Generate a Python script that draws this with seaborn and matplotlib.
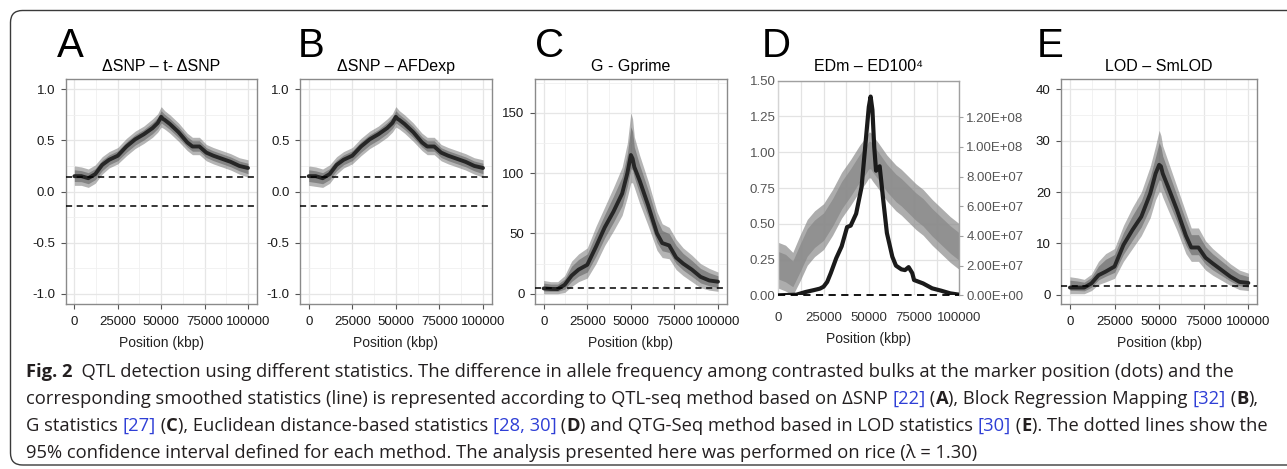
import numpy as np
import pandas as pd
import matplotlib
matplotlib.use("Agg")
import matplotlib.pyplot as plt
import seaborn as sns
from matplotlib.patches import FancyBboxPatch
from matplotlib.transforms import IdentityTransform

W, H, DPI = 1287, 469, 100

# ---------------- data ----------------
position_k = [0, 4, 8, 12, 16, 20, 25, 30, 35, 40, 45, 48, 50, 51, 52, 55, 60, 65, 68, 72, 76, 80, 85, 90, 95, 100]

a_line = [0.15, 0.15, 0.13, 0.17, 0.26, 0.31, 0.35, 0.44, 0.51, 0.56, 0.62, 0.67, 0.73, 0.71, 0.70, 0.66, 0.58, 0.48, 0.44, 0.44, 0.38, 0.35, 0.32, 0.29, 0.25, 0.23]
a_lo = [0.06, 0.06, 0.04, 0.08, 0.17, 0.23, 0.27, 0.35, 0.42, 0.47, 0.53, 0.58, 0.63, 0.62, 0.61, 0.57, 0.49, 0.40, 0.36, 0.36, 0.30, 0.27, 0.24, 0.21, 0.17, 0.14]
a_hi = [0.25, 0.24, 0.22, 0.26, 0.34, 0.39, 0.43, 0.52, 0.59, 0.64, 0.71, 0.76, 0.83, 0.81, 0.79, 0.75, 0.67, 0.57, 0.53, 0.53, 0.46, 0.43, 0.40, 0.37, 0.33, 0.31]
a_ci = [0.145, -0.14]

b_line = [0.15, 0.15, 0.13, 0.17, 0.26, 0.31, 0.35, 0.44, 0.51, 0.56, 0.62, 0.67, 0.73, 0.71, 0.70, 0.66, 0.58, 0.48, 0.44, 0.44, 0.38, 0.35, 0.32, 0.29, 0.25, 0.23]
b_lo = [0.06, 0.05, 0.04, 0.08, 0.17, 0.23, 0.27, 0.35, 0.42, 0.47, 0.53, 0.58, 0.63, 0.62, 0.61, 0.57, 0.49, 0.40, 0.36, 0.36, 0.30, 0.27, 0.24, 0.21, 0.17, 0.14]
b_hi = [0.25, 0.24, 0.22, 0.26, 0.34, 0.39, 0.43, 0.52, 0.59, 0.64, 0.71, 0.76, 0.83, 0.81, 0.79, 0.75, 0.67, 0.57, 0.53, 0.53, 0.46, 0.43, 0.40, 0.37, 0.33, 0.31]
b_ci = [0.145, -0.14]

c_line = [4.4, 4.0, 3.9, 7.4, 15, 20, 24, 39, 55, 68, 83, 100, 115, 112, 105, 94, 73, 50, 42, 40, 30, 25, 20, 14, 11, 10]
c_lo = [0, 0, 0, 1, 6, 10, 13, 25, 40, 52, 65, 80, 92, 92, 88, 75, 56, 36, 30, 29, 20, 15, 10, 5, 3, 2]
c_hi = [11, 10, 10, 15, 27, 33, 38, 56, 72, 88, 105, 125, 150, 145, 130, 115, 93, 68, 58, 55, 45, 38, 32, 25, 21, 18]
c_ci = [4.5]

d_dots_lo = [0.05, 0.03, 0.0, 0.10, 0.21, 0.27, 0.32, 0.42, 0.54, 0.63, 0.73, 0.78, 0.82, 0.82, 0.80, 0.75, 0.66, 0.59, 0.56, 0.51, 0.46, 0.42, 0.35, 0.29, 0.23, 0.18]
d_dots_hi = [0.37, 0.35, 0.30, 0.42, 0.53, 0.59, 0.64, 0.74, 0.86, 0.95, 1.05, 1.10, 1.14, 1.14, 1.12, 1.07, 0.98, 0.91, 0.88, 0.83, 0.78, 0.74, 0.67, 0.61, 0.55, 0.50]
d_line_pos_k = [0, 10, 15, 20, 23, 25, 27, 29, 32, 35, 38, 40, 43, 46, 48, 50, 51, 52, 53, 54, 56, 58, 60, 63, 65, 68, 70, 72, 74, 75, 80, 85, 90, 95, 100]
d_line = [0, 0.04e7, 0.22e7, 0.36e7, 0.45e7, 0.58e7, 0.9e7, 1.5e7, 2.5e7, 3.3e7, 4.6e7, 4.7e7, 5.5e7, 7.3e7, 10.0e7, 12.7e7, 13.4e7, 12.5e7, 10.0e7, 8.4e7,
          8.7e7, 6.4e7, 4.2e7, 2.6e7, 2.0e7, 1.75e7, 1.7e7, 1.9e7, 1.5e7, 1.03e7, 0.8e7, 0.47e7, 0.31e7, 0.13e7, 0.04e7]
d_ci = [0.0]

e_line = [1.4, 1.4, 1.4, 2.2, 3.8, 4.5, 5.5, 9.7, 12.6, 15.2, 19.7, 23.6, 25.3, 25.0, 23.6, 21, 16.5, 11.5, 9.2, 9.2, 7.2, 6.1, 4.8, 3.5, 2.5, 2.3]
e_lo = [0.2, 0.2, 0.2, 0.8, 2.0, 2.5, 3.2, 6.5, 9, 11.5, 15, 18.5, 20, 20, 19, 16.5, 12.5, 8, 6.5, 6.5, 4.8, 3.8, 2.8, 1.8, 1.0, 0.8]
e_hi = [3.5, 3.3, 3.0, 4, 6.5, 8, 9, 13.5, 17, 20, 25, 29, 32, 31, 29, 26, 21, 16, 13, 13, 10.5, 9, 7.5, 6, 4.8, 4.2]
e_ci = [1.7]

letters = ["A", "B", "C", "D", "E"]
titles = ["ΔSNP – t- ΔSNP", "ΔSNP – AFDexp", "G - Gprime", "EDm – ED100⁴", "LOD – SmLOD"]
x_ticks = [0, 25000, 50000, 75000, 100000]
x_ticklabels = ["0", "25000", "50000", "75000", "100000"]
ab_yticks = [-1.0, -0.5, 0.0, 0.5, 1.0]
ab_yticklabels = ["-1.0", "-0.5", "0.0", "0.5", "1.0"]
c_yticks = [0, 50, 100, 150]
e_yticks = [0, 10, 20, 30, 40]
d_left_ticks = [0, 0.25, 0.5, 0.75, 1.0, 1.25, 1.5]
d_left_labels = ["0.00", "0.25", "0.50", "0.75", "1.00", "1.25", "1.50"]
d_right_ticks = [0, 2e7, 4e7, 6e7, 8e7, 1e8, 1.2e8]
d_right_labels = ["0.00E+00", "2.00E+07", "4.00E+07", "6.00E+07", "8.00E+07", "1.00E+08", "1.20E+08"]
x_label = "Position (kbp)"

caption_lines = [
    [("Fig. 2", "b"), ("  QTL detection using different statistics. The difference in allele frequency among contrasted bulks at the marker position (dots) and the", "r")],
    [("corresponding smoothed statistics (line) is represented according to QTL-seq method based on ΔSNP ", "r"), ("[22]", "l"), (" (", "r"), ("A", "b"),
     ("), Block Regression Mapping ", "r"), ("[32]", "l"), (" (", "r"), ("B", "b"), ("),", "r")],
    [("G statistics ", "r"), ("[27]", "l"), (" (", "r"), ("C", "b"), ("), Euclidean distance-based statistics ", "r"), ("[28, 30]", "l"), (" (", "r"), ("D", "b"),
     (") and QTG-Seq method based in LOD statistics ", "r"), ("[30]", "l"), (" (", "r"), ("E", "b"), ("). The dotted lines show the", "r")],
    [("95% confidence interval defined for each method. The analysis presented here was performed on rice (λ = 1.30)", "r")],
]

# ---------------- styling ----------------
sns.set_theme(style="white")
plt.rcParams['font.family'] = ['Liberation Sans', 'DejaVu Sans']

fig = plt.figure(figsize=(W / DPI, H / DPI), dpi=DPI)
fig.patch.set_facecolor("white")


def add_ax(x0, y0, x1, y1):
    return fig.add_axes([x0 / W, 1 - y1 / H, (x1 - x0) / W, (y1 - y0) / H])


def ftext(x, y, s, **kw):
    return fig.text(x / W, 1 - y / H, s, **kw)


pos = np.array(position_k) * 1000.0


def draw_cloud(ax, lo, hi, color, a_out, a_in):
    lo = np.asarray(lo, float)
    hi = np.asarray(hi, float)
    ax.fill_between(pos, lo, hi, color=color, alpha=a_out, lw=0, zorder=2)
    mid = (lo + hi) / 2
    half = (hi - lo) / 2 * 0.6
    ax.fill_between(pos, mid - half, mid + half, color=color, alpha=a_in, lw=0, zorder=2)


def gg_panel(ax, line, lo, hi, ci, ylim, yticks, ylabels, yminor):
    df = pd.DataFrame({"pos": pos, "val": line})
    draw_cloud(ax, lo, hi, "#5c5c5c", 0.45, 0.55)
    sns.lineplot(data=df, x="pos", y="val", ax=ax, color="#262626", linewidth=2.8,
                 estimator=None, sort=False, zorder=3)
    for c in ci:
        ax.axhline(c, color="black", lw=1.1, ls=(0, (4, 3)), zorder=4)
    ax.set_xlim(-5000, 105000)
    ax.set_ylim(*ylim)
    ax.set_xticks(x_ticks)
    ax.set_xticklabels(x_ticklabels)
    ax.set_yticks(yticks)
    ax.set_yticklabels(ylabels)
    ax.set_xticks([12500, 37500, 62500, 87500], minor=True)
    ax.set_yticks(yminor, minor=True)
    ax.grid(which="major", color="#e6e6e6", lw=0.9)
    ax.grid(which="minor", color="#f0f0f0", lw=0.6)
    ax.set_axisbelow(True)
    for s in ax.spines.values():
        s.set_visible(True)
        s.set_color("#8a8a8a")
        s.set_linewidth(1.0)
    ax.tick_params(which="major", length=3.5, width=0.8, color="#555555",
                   labelsize=9.5, labelcolor="#1a1a1a", bottom=True, left=True)
    ax.tick_params(axis="x", pad=5)
    ax.tick_params(axis="y", pad=4)
    ax.tick_params(which="minor", length=0)
    ax.set_xlabel("")
    ax.set_ylabel("")


axA = add_ax(65.7, 79, 256.7, 304)
gg_panel(axA, a_line, a_lo, a_hi, a_ci, (-1.1, 1.1), ab_yticks, ab_yticklabels, [-0.75, -0.25, 0.25, 0.75])
axB = add_ax(300, 79, 491.7, 304)
gg_panel(axB, b_line, b_lo, b_hi, b_ci, (-1.1, 1.1), ab_yticks, ab_yticklabels, [-0.75, -0.25, 0.25, 0.75])
axC = add_ax(535, 79, 726.7, 304)
gg_panel(axC, c_line, c_lo, c_hi, c_ci, (-8.5, 178), c_yticks, [str(v) for v in c_yticks], [25, 75, 125, 175])
axE = add_ax(1061, 79, 1257.3, 304)
gg_panel(axE, e_line, e_lo, e_hi, e_ci, (-1.8, 42), e_yticks, [str(v) for v in e_yticks], [5, 15, 25, 35])

# ---- panel D (Excel-like, twin axes) ----
axD = add_ax(778.3, 80.7, 959.3, 295.3)
draw_cloud(axD, d_dots_lo, d_dots_hi, "#8a8a8a", 0.7, 0.8)
axD.set_xlim(0, 100000)
axD.set_ylim(0, 1.5)
axD.set_xticks(x_ticks)
axD.set_xticklabels(x_ticklabels)
axD.set_xticks([12500, 37500, 62500, 87500], minor=True)
axD.set_yticks(d_left_ticks)
axD.set_yticklabels(d_left_labels)
axD.grid(which="both", axis="x", color="#e3e3e3", lw=0.9)
axD.grid(which="major", axis="y", color="#e3e3e3", lw=0.9)
axD.set_axisbelow(True)
axD.spines["top"].set_color("#a0a0a0")
axD.spines["left"].set_color("#d4d4d4")
axD.spines["right"].set_visible(False)
axD.spines["bottom"].set_visible(False)
for s in ["top", "left"]:
    axD.spines[s].set_linewidth(1.0)
axD.tick_params(which="both", length=0, labelsize=9.5, labelcolor="#555555")
axD.tick_params(axis="x", pad=12, labelcolor="#333333")
axD.tick_params(axis="y", pad=2)

axD2 = axD.twinx()
dfD = pd.DataFrame({"pos": np.array(d_line_pos_k) * 1000.0, "val": d_line})
sns.lineplot(data=dfD, x="pos", y="val", ax=axD2, color="#1a1a1a", linewidth=3.0,
             estimator=None, sort=False, zorder=3)
for c in d_ci:
    axD2.axhline(c, color="black", lw=1.3, ls=(0, (4, 3)), zorder=4, clip_on=False)
axD2.set_ylim(0, 1.447e8)
axD2.set_xlim(0, 100000)
axD2.set_yticks(d_right_ticks)
axD2.set_yticklabels(d_right_labels)
axD2.grid(False)
for s in ["top", "left", "bottom"]:
    axD2.spines[s].set_visible(False)
axD2.spines["right"].set_visible(True)
axD2.spines["right"].set_color("#a0a0a0")
axD2.spines["right"].set_linewidth(1.0)
axD2.tick_params(axis="y", right=True, length=3, width=0.8, color="#a0a0a0", pad=2,
                 labelsize=9.5, labelcolor="#555555")
axD2.set_xlabel("")
axD2.set_ylabel("")
axD.set_xlabel("")
axD.set_ylabel("")

# ---- letters, titles, x labels ----
letter_x = [57, 298, 535, 762, 1037]
axes_list = [axA, axB, axC, axD, axE]
for ax, L, lx, t in zip(axes_list, letters, letter_x, titles):
    ftext(lx, 57, L, fontsize=29, ha="left", va="baseline", color="black")
    bb = ax.get_position()
    cx = (bb.x0 + bb.x1) / 2 * W
    ftext(cx, 71, t, fontsize=11.5, ha="center", va="baseline", color="black")
    ylab = 342.5 if ax is axD else 347.3
    ftext(cx, ylab, x_label, fontsize=10, ha="center", va="baseline", color="#222222")

# ---- border box (right side runs off the picture) ----
box = FancyBboxPatch((10.5, H - 465), 1400 - 10.5, 465 - 10.5,
                     boxstyle="round,pad=0,rounding_size=12", transform=IdentityTransform(),
                     fill=False, ec="#3a3a3a", lw=1.0)
fig.add_artist(box)

# ---- caption (rich text) ----
renderer = fig.canvas.get_renderer()
styles = {
    "r": dict(family=["Open Sans", "DejaVu Sans"], color="#231f20"),
    "b": dict(family=["Open Sans", "DejaVu Sans"], color="#231f20", weight="bold"),
    "l": dict(family=["Open Sans", "DejaVu Sans"], color="#2f3fd6"),
}


def measure(s, size, st):
    t1 = fig.text(0, 0, "|" + s + "|", fontsize=size, **styles[st])
    w1 = t1.get_window_extent(renderer).width
    t1.remove()
    t0 = fig.text(0, 0, "||", fontsize=size, **styles[st])
    w0 = t0.get_window_extent(renderer).width
    t0.remove()
    return w1 - w0


base = 12.0
w_line2 = sum(measure(s, base, st) for s, st in caption_lines[1])
cap_size = base * 1228.0 / w_line2

baselines = [377.3, 404.2, 431.0, 457.8]
for pieces, yb in zip(caption_lines, baselines):
    x = 25.7
    for s, st in pieces:
        ftext(x, yb, s, fontsize=cap_size, ha="left", va="baseline", **styles[st])
        x += measure(s, cap_size, st)

fig.savefig("out.png", dpi=DPI, facecolor="white")
